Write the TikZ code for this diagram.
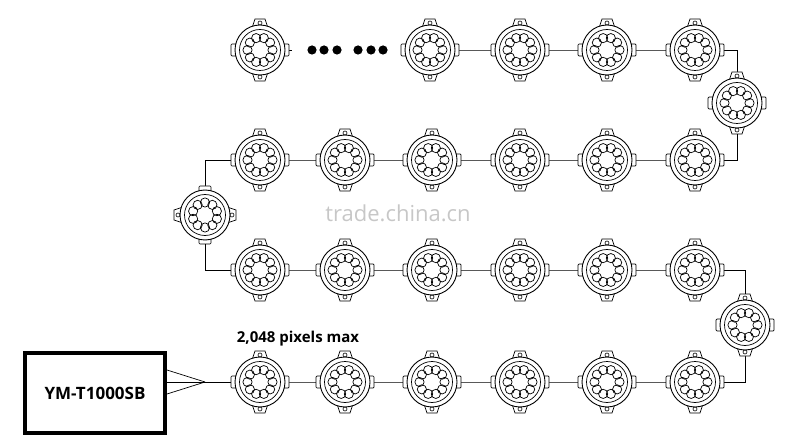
\documentclass[tikz,border=0pt]{standalone}
\usepackage{fontspec}
\setmainfont{Open Sans}
\usetikzlibrary{positioning}
\tikzset{
  pix/.style={circle, minimum size=52pt, inner sep=0pt},
  wire/.style={line width=0.8pt},
  pixel/.pic={
    % ears
    \draw[line width=0.7pt, fill=white] (-8,-22) -- (-5,-31) -- (5,-31) -- (8,-22);
    \draw[line width=0.7pt, fill=white] (-8,22) -- (-5,31) -- (5,31) -- (8,22);
    \draw[line width=0.6pt] (0,-27) circle (2pt) (0,27) circle (2pt);
    % side tabs
    \draw[line width=0.7pt, fill=white, rounded corners=1pt] (-22,-6) rectangle (-29,6) (22,-6) rectangle (29,6);
    \draw[line width=0.9pt, fill=white] (0,0) circle (25pt);
    \draw[line width=0.7pt] (0,0) circle (20.5pt);
    \foreach \a in {0,36,...,324}
      \draw[line width=0.7pt] (\a:12.5) circle (4.6pt);
  }
}
\begin{document}
\begin{tikzpicture}[x=1pt, y=-1pt]
\useasboundingbox (0,0) rectangle (800,446);
\node[pix] (a1) at (260,50) {};
\coordinate (dotL) at (292,50);
\coordinate (dotR) at (402,50);
\foreach \n/\x in {2/430,3/520,4/607,5/695}
  \node[pix] (a\n) at (\x,50) {};
\foreach \r/\y in {b/160,c/270,d/382}
  \foreach \n/\x in {1/260,2/345,3/432,4/520,5/607,6/695}
    \node[pix] (\r\n) at (\x,\y) {};
\node[pix] (t1) at (737,103) {};
\node[pix] (t2) at (205,215) {};
\node[pix] (t3) at (745,325) {};
\node[draw, line width=4pt, minimum width=140pt, minimum height=80pt,
      font=\bfseries\fontsize{17}{20}\selectfont] (ctrl) at (95,393) {YM-T1000SB};
\coordinate (tip) at (205,382);
\node[font=\bfseries\fontsize{15}{18}\selectfont] (lbl) at (298,339) {2,048 pixels max};
\node[text=black!22, font=\fontsize{22}{26}\selectfont] (wm) at (398,213) {trade.china.cn};

% wires
\draw[wire] (a1.center) -- (dotL) (dotR) -- (a2.center) -- (a5.center) -| (t1.center)
  |- (b6.center) -- (b1.center) -| (t2.center) |- (c1.center) -- (c6.center)
  -| (t3.center) |- (d6.center) -- (d1.center) -- (tip);
\foreach \s in {-12,0,12}
  \draw[line width=0.7pt] (tip) -- (ctrl.east |- 0,382+\s);
\foreach \x in {312,324,337,358,371,383}
  \fill (\x,50) circle (4.6pt);

% pixels
\foreach \p in {a1,a2,a3,a4,a5,b1,b2,b3,b4,b5,b6,c1,c2,c3,c4,c5,c6,d1,d2,d3,d4,d5,d6,t1,t3}
  \pic at (\p) {pixel};
\pic[rotate=90] at (t2) {pixel};
\end{tikzpicture}
\end{document}
